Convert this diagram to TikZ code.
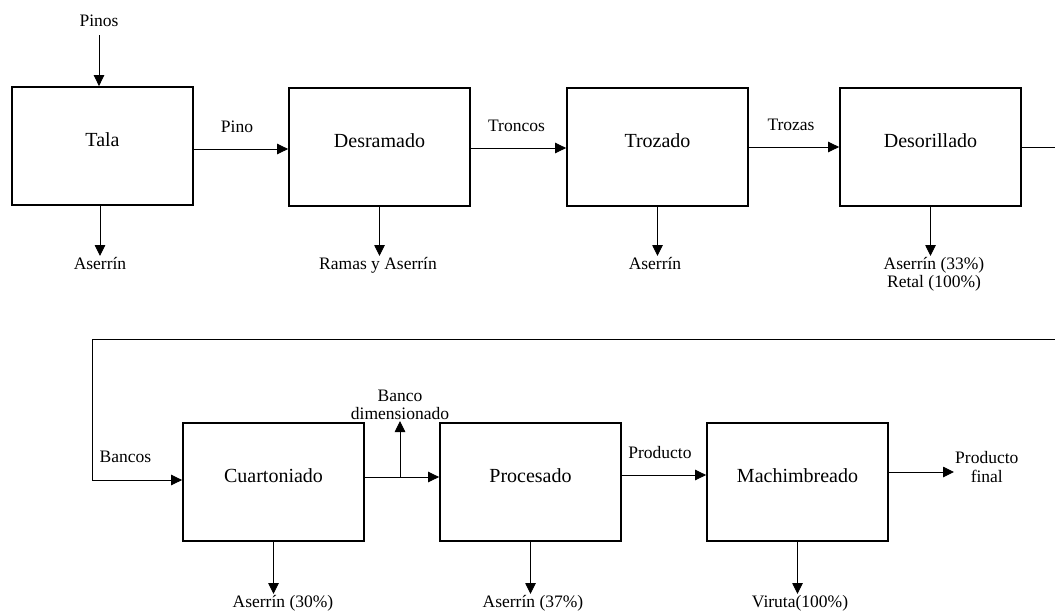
\documentclass[tikz,border=0pt]{standalone}
\usepackage{fontspec}
\setmainfont{Liberation Serif}
\usetikzlibrary{arrows.meta}
\begin{document}
\begin{tikzpicture}[x=1pt,y=-1pt,
  procbox/.style={draw, line width=1.8pt, minimum width=181pt, minimum height=118pt, inner sep=0pt,
    text height=10pt, text depth=10pt, font=\fontsize{20}{22}\selectfont},
  lbl/.style={inner sep=1pt, align=center, font=\fontsize{17.5}{18.5}\selectfont},
  flow/.style={line width=0.9pt, -{Triangle[width=10.5pt,length=11pt]}},
  plainline/.style={line width=0.9pt}]
\useasboundingbox (0,0) rectangle (1055,611);

% process boxes
\node[procbox] (tala)  at (102.5,146)  {Tala};
\node[procbox] (desr)  at (379.5,147)  {Desramado};
\node[procbox] (troz)  at (657.5,147)  {Trozado};
\node[procbox] (deso)  at (930.5,147)  {Desorillado};
\node[procbox] (cuart) at (273.5,482)  {Cuartoniado};
\node[procbox] (proc)  at (530.5,482)  {Procesado};
\node[procbox] (mach)  at (797.5,482)  {Machimbreado};

% input
\node[lbl, anchor=south] (pinos) at (99,28) {Pinos};
\draw[flow, shorten <=7pt] (pinos.south) -- (pinos.south |- tala.north);

% waste outputs top row
\node[lbl, anchor=north] (as1) at (100,256) {Aserrín};
\draw[flow] (tala.south -| as1.north) -- (as1.north);
\node[lbl, anchor=north] (as2) at (378,256) {Ramas y Aserrín};
\draw[flow] (desr.south) -- (desr.south |- as2.north);
\node[lbl, anchor=north] (as3) at (655,256) {Aserrín};
\draw[flow] (troz.south) -- (troz.south |- as3.north);
\node[lbl, anchor=north] (as4) at (934,256) {Aserrín (33\%)\\Retal (100\%)};
\draw[flow] (deso.south) -- (deso.south |- as4.north);

% waste outputs bottom row
\node[lbl, anchor=north] (as5) at (283,594) {Aserrín (30\%)};
\draw[flow] (cuart.south) -- (cuart.south |- as5.north);
\node[lbl, anchor=north] (as6) at (533,594) {Aserrín (37\%)};
\draw[flow] (proc.south) -- (proc.south |- as6.north);
\node[lbl, anchor=north] (vir) at (800,594) {Viruta(100\%)};
\draw[flow] (mach.south) -- (mach.south |- vir.north);

% main flow top row
\coordinate (t1) at ([yshift=-3pt]tala.east);
\draw[flow] (t1) -- node[lbl, anchor=base, yshift=17pt, xshift=-4pt] {Pino} (t1 -| desr.west);
\coordinate (d1) at ([yshift=-1pt]desr.east);
\draw[flow] (d1) -- node[lbl, anchor=base, yshift=17pt, xshift=-2pt] {Troncos} (d1 -| troz.west);
\coordinate (z1) at (troz.east);
\draw[flow] (z1) -- node[lbl, anchor=base, yshift=17pt, xshift=-3pt] {Trozas} (z1 -| deso.west);

% link between rows (leaves the picture on the right)
\coordinate (r1) at (1055,147);
\draw[plainline] (deso.east) -- (r1);
\coordinate (r2) at (1055,339);
\coordinate (lc) at (92,339);
\coordinate (cin) at ([yshift=2pt]cuart.west);
\draw[flow] (r2) -- (lc) -- (lc |- cin) -- node[lbl, pos=0.37, anchor=base, yshift=18pt] {Bancos} (cin);

% main flow bottom row
\coordinate (c1) at ([yshift=5pt]cuart.east);
\draw[flow] (c1) -- (c1 -| proc.west);
\node[lbl, anchor=south] (bdim) at (400,421) {Banco\\dimensionado};
\draw[flow] (c1 -| bdim.south) -- (bdim.south);
\coordinate (p1) at ([yshift=7pt]proc.east);
\draw[flow] (p1) -- node[lbl, anchor=base, yshift=17pt, xshift=-4pt] {Producto} (p1 -| mach.west);
\coordinate (m1) at ([yshift=10pt]mach.east);
\node[lbl, anchor=west] (pf) at (954,467) {Producto\\final};
\draw[flow] (m1) -- (m1 -| pf.west);
\end{tikzpicture}
\end{document}
